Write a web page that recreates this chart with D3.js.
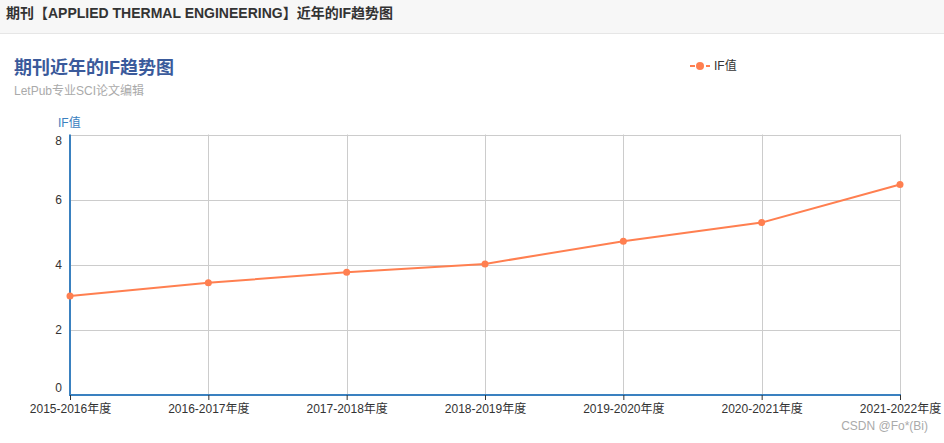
<!DOCTYPE html>
<html><head><meta charset="utf-8">
<script src="https://cdn.jsdelivr.net/npm/d3@7/dist/d3.min.js"></script>
<style>
html,body{margin:0;padding:0;background:#fff;font-family:"Microsoft YaHei","Noto Sans CJK SC",Arial,sans-serif;}
svg{display:block;}
</style></head>
<body>
<svg id="c" width="944" height="443"></svg>
<script>
const categories = ["2015-2016年度","2016-2017年度","2017-2018年度","2018-2019年度","2019-2020年度","2020-2021年度","2021-2022年度"];
const ifValues = [3.043, 3.444, 3.771, 4.026, 4.725, 5.295, 6.465];
const yTicks = [0, 2, 4, 6, 8];
const pageTitle = "期刊【APPLIED THERMAL ENGINEERING】近年的IF趋势图";
const chartTitle = "期刊近年的IF趋势图";
const chartSubtitle = "LetPub专业SCI论文编辑";
const seriesName = "IF值";
const watermark = "CSDN @Fo*(Bi)";

const svg = d3.select("#c");
const font = "Arial,'Noto Sans CJK SC',sans-serif";
const orange = "#ff7f50", blue = "#3a81c0";

// header bar
svg.append("rect").attr("x",0).attr("y",0).attr("width",944).attr("height",33).attr("fill","#f7f7f7");
svg.append("rect").attr("x",0).attr("y",33).attr("width",944).attr("height",1).attr("fill","#e6e6e6");
svg.append("text").attr("x",6).attr("y",18).attr("font-size",14).attr("font-weight","bold")
  .attr("fill","#333").attr("font-family",font).text(pageTitle);

// titles
svg.append("text").attr("x",14).attr("y",74).attr("font-size",18).attr("font-weight","bold")
  .attr("fill","#3a5a9b").attr("font-family",font).text(chartTitle);
svg.append("text").attr("x",14).attr("y",95).attr("font-size",12)
  .attr("fill","#aaa").attr("font-family",font).text(chartSubtitle);

const L=70, R=900, T=134.5, B=395;
const x = d3.scalePoint().domain(categories).range([L,R]);
const y = d3.scaleLinear().domain([0,8]).range([B,T]);

// grid
const g = svg.append("g");
g.selectAll(".hg").data(yTicks.filter(d=>d>0)).join("line")
  .attr("x1",L).attr("x2",R).attr("y1",d=>Math.round(y(d))+0.5).attr("y2",d=>Math.round(y(d))+0.5)
  .attr("stroke","#ccc").attr("stroke-width",1);
g.selectAll(".vg").data(categories.slice(1)).join("line")
  .attr("x1",d=>Math.round(x(d))+0.5).attr("x2",d=>Math.round(x(d))+0.5).attr("y1",T).attr("y2",B)
  .attr("stroke","#ccc").attr("stroke-width",1);

// axes lines
svg.append("line").attr("x1",L).attr("x2",L).attr("y1",T).attr("y2",B+1).attr("stroke",blue).attr("stroke-width",2);
svg.append("line").attr("x1",L-1).attr("x2",R+1).attr("y1",B).attr("y2",B).attr("stroke",blue).attr("stroke-width",2);

// x axis ticks + labels
const xa = d3.axisBottom(x).tickSize(5).tickPadding(4);
const xg = svg.append("g").attr("transform",`translate(0,${B})`).call(xa);
xg.select(".domain").remove();
xg.selectAll(".tick line").attr("stroke","#333").attr("stroke-width",1);
xg.selectAll(".tick text").attr("fill","#333").attr("font-size",12).attr("font-family",font);

// y labels (clamped inside plot like original)
svg.selectAll(".yl").data(yTicks).join("text")
  .attr("x",62).attr("y",d=>{ let p=y(d); if(d===8) p+=6; if(d===0) p-=7; return p; })
  .attr("dy","0.35em").attr("text-anchor","end").attr("font-size",12).attr("fill","#333")
  .attr("font-family",font).text(d=>d);

svg.append("text").attr("x",58).attr("y",127).attr("font-size",12).attr("fill",blue)
  .attr("font-family",font).text(seriesName);

// line
const line = d3.line().x((d,i)=>x(categories[i])).y(d=>y(d));
svg.append("path").datum(ifValues).attr("d",line).attr("fill","none")
  .attr("stroke",orange).attr("stroke-width",2);
svg.selectAll(".pt").data(ifValues).join("circle")
  .attr("cx",(d,i)=>x(categories[i])).attr("cy",d=>y(d)).attr("r",3.5).attr("fill",orange);

// legend
svg.append("line").attr("x1",690).attr("x2",710).attr("y1",66).attr("y2",66).attr("stroke",orange).attr("stroke-width",2).attr("stroke-dasharray","5,3");
svg.append("circle").attr("cx",700).attr("cy",66).attr("r",4).attr("fill",orange);
svg.append("text").attr("x",714).attr("y",66).attr("dy","0.35em").attr("font-size",12).attr("fill","#333")
  .attr("font-family",font).text(seriesName);

// watermark
svg.append("text").attr("x",928).attr("y",426).attr("dy","0.35em").attr("text-anchor","end")
  .attr("font-size",12).attr("fill","#aaa").attr("font-family",font).text(watermark);
</script>
</body></html>
